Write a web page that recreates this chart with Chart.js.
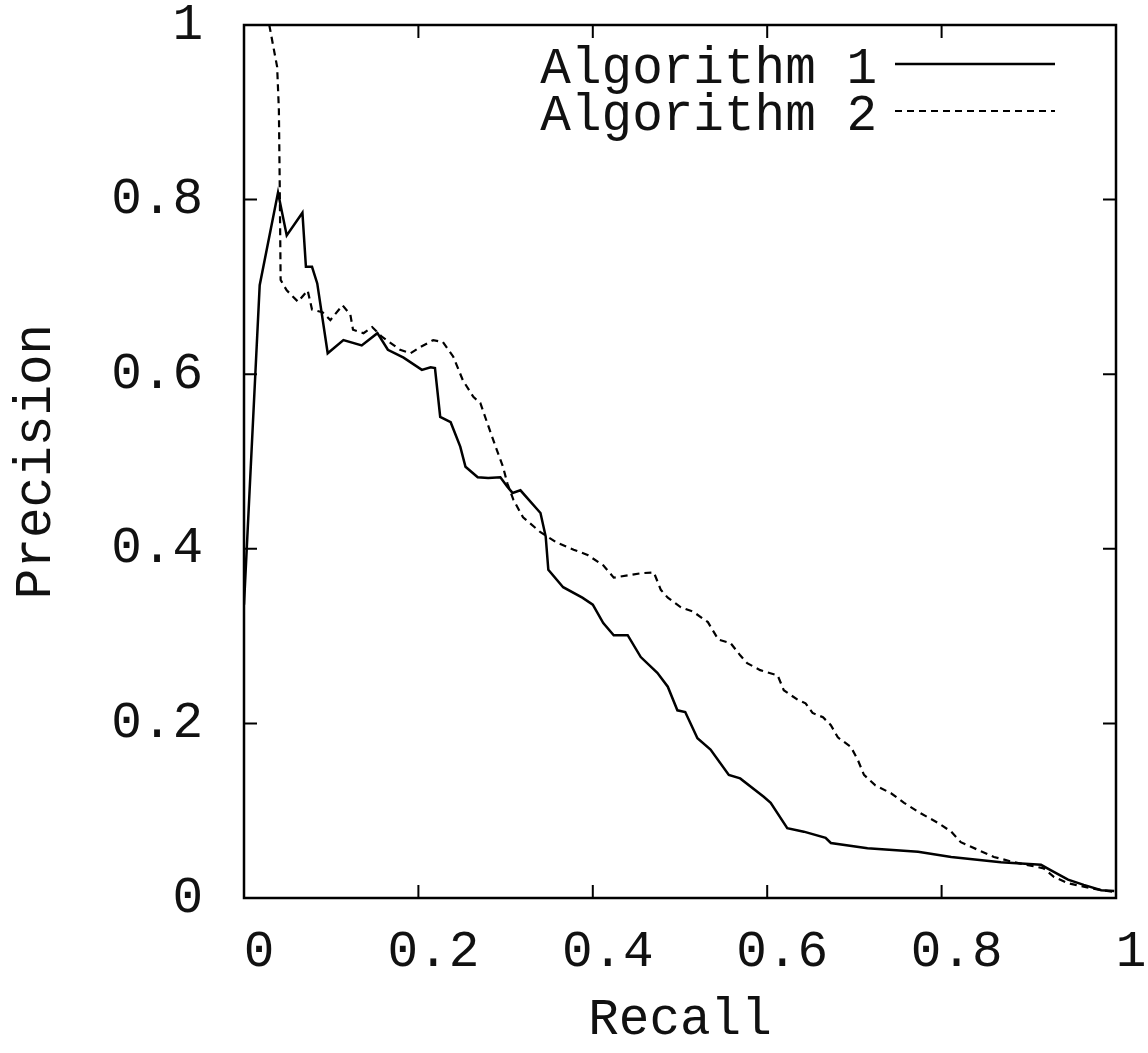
<!DOCTYPE html>
<html>
<head>
<meta charset="utf-8">
<title>Precision / Recall</title>
<script src="https://cdn.jsdelivr.net/npm/chart.js@4.4.1/dist/chart.umd.min.js"></script>
<style>
  html, body { margin: 0; padding: 0; background: #fff; }
  #prChart { display: block; }
</style>
</head>
<body>
<canvas id="prChart" width="1148" height="1053"></canvas>
<script>
// series (recall on x, precision on y)
const algo1Recall = [0, 0.018, 0.039, 0.049, 0.067, 0.071, 0.078, 0.084, 0.096, 0.114, 0.135, 0.153, 0.165, 0.183,
  0.204, 0.214, 0.219, 0.225, 0.237, 0.248, 0.254, 0.268, 0.280, 0.294, 0.302, 0.308, 0.317, 0.340, 0.346, 0.349,
  0.366, 0.388, 0.400, 0.412, 0.424, 0.440, 0.455, 0.474, 0.486, 0.497, 0.506, 0.520, 0.535, 0.556, 0.569, 0.596,
  0.604, 0.623, 0.642, 0.667, 0.673, 0.715, 0.773, 0.811, 0.868, 0.914, 0.925, 0.945, 0.963, 0.983, 0.998];
const algo1Precision = [0.336, 0.702, 0.808, 0.759, 0.785, 0.723, 0.723, 0.704, 0.624, 0.639, 0.633, 0.647, 0.628, 0.619,
  0.605, 0.608, 0.607, 0.551, 0.545, 0.517, 0.494, 0.482, 0.481, 0.482, 0.471, 0.464, 0.467, 0.441, 0.414, 0.376,
  0.356, 0.344, 0.336, 0.315, 0.301, 0.301, 0.276, 0.258, 0.242, 0.215, 0.213, 0.183, 0.170, 0.141, 0.137, 0.116,
  0.109, 0.080, 0.076, 0.069, 0.063, 0.057, 0.053, 0.047, 0.041, 0.038, 0.032, 0.021, 0.015, 0.009, 0.008];

const algo2Recall = [0.029, 0.038, 0.040, 0.041, 0.042, 0.049, 0.062, 0.073, 0.078, 0.090, 0.099, 0.113, 0.122, 0.125,
  0.137, 0.147, 0.158, 0.179, 0.191, 0.202, 0.217, 0.228, 0.240, 0.251, 0.263, 0.271, 0.279, 0.290, 0.297, 0.302,
  0.309, 0.320, 0.340, 0.359, 0.378, 0.394, 0.412, 0.424, 0.443, 0.455, 0.470, 0.478, 0.486, 0.501, 0.515, 0.532,
  0.544, 0.558, 0.569, 0.577, 0.592, 0.612, 0.619, 0.635, 0.644, 0.652, 0.664, 0.673, 0.681, 0.696, 0.704, 0.711,
  0.724, 0.742, 0.757, 0.776, 0.796, 0.811, 0.822, 0.842, 0.860, 0.883, 0.917, 0.929, 0.945, 0.963, 0.983, 0.998];
const algo2Precision = [1.0, 0.952, 0.903, 0.815, 0.708, 0.696, 0.683, 0.696, 0.674, 0.671, 0.662, 0.679, 0.668, 0.651,
  0.647, 0.654, 0.643, 0.628, 0.624, 0.631, 0.639, 0.637, 0.620, 0.593, 0.574, 0.567, 0.544, 0.513, 0.494, 0.475,
  0.456, 0.436, 0.419, 0.407, 0.399, 0.393, 0.381, 0.367, 0.370, 0.372, 0.373, 0.353, 0.344, 0.333, 0.328, 0.316,
  0.296, 0.292, 0.278, 0.269, 0.261, 0.255, 0.238, 0.227, 0.223, 0.212, 0.207, 0.198, 0.184, 0.173, 0.158, 0.141,
  0.129, 0.120, 0.109, 0.097, 0.086, 0.076, 0.064, 0.055, 0.047, 0.041, 0.034, 0.024, 0.017, 0.013, 0.009, 0.007];

const seriesNames = ['Algorithm 1', 'Algorithm 2'];
const xTickValues = [0, 0.2, 0.4, 0.6, 0.8, 1];
const yTickValues = [0, 0.2, 0.4, 0.6, 0.8, 1];
const tickLabels = ['0', '0.2', '0.4', '0.6', '0.8', '1'];

const FONT = "'Liberation Mono', 'Courier New', monospace";

function toPoints(xs, ys) {
  return xs.map((v, i) => ({ x: v, y: ys[i] }));
}

// gnuplot style frame: box with inward ticks on all four sides, plus key in the top right
const gnuplotFrame = {
  id: 'gnuplotFrame',
  afterDraw(chart) {
    const { ctx, chartArea: a, scales } = chart;
    const tick = 13;
    ctx.save();
    ctx.strokeStyle = '#000';
    ctx.lineWidth = 2.5;
    ctx.strokeRect(a.left, a.top, a.right - a.left, a.bottom - a.top);
    ctx.lineWidth = 2;
    ctx.beginPath();
    xTickValues.forEach(v => {
      const px = scales.x.getPixelForValue(v);
      ctx.moveTo(px, a.bottom); ctx.lineTo(px, a.bottom - tick);
      ctx.moveTo(px, a.top); ctx.lineTo(px, a.top + tick);
    });
    yTickValues.forEach(v => {
      const py = scales.y.getPixelForValue(v);
      ctx.moveTo(a.left, py); ctx.lineTo(a.left + tick, py);
      ctx.moveTo(a.right, py); ctx.lineTo(a.right - tick, py);
    });
    ctx.stroke();

    // key
    ctx.font = '51px ' + FONT;
    ctx.fillStyle = '#111';
    ctx.textAlign = 'right';
    ctx.textBaseline = 'middle';
    chart.data.datasets.forEach((ds, i) => {
      const ly = a.top + 39 + i * 47;
      ctx.fillText(ds.label, 877, ly + 5);
      ctx.beginPath();
      ctx.lineWidth = ds.borderWidth;
      ctx.setLineDash(ds.borderDash || []);
      ctx.moveTo(895, ly);
      ctx.lineTo(1055, ly);
      ctx.stroke();
    });
    ctx.restore();
  }
};

const prChart = new Chart(document.getElementById('prChart'), {
  type: 'line',
  data: {
    datasets: [{
      label: seriesNames[0],
      data: toPoints(algo1Recall, algo1Precision),
      borderColor: '#000',
      borderWidth: 2.5,
      pointRadius: 0,
      tension: 0,
      fill: false
    }, {
      label: seriesNames[1],
      data: toPoints(algo2Recall, algo2Precision),
      borderColor: '#000',
      borderWidth: 2.2,
      borderDash: [7, 5],
      pointRadius: 0,
      tension: 0,
      fill: false
    }]
  },
  options: {
    responsive: false,
    animation: false,
    layout: { padding: { left: 0, right: 32, top: 25, bottom: 0 } },
    plugins: {
      legend: { display: false },
      tooltip: { enabled: false }
    },
    scales: {
      x: {
        type: 'linear',
        min: 0,
        max: 1,
        grid: { display: false },
        border: { display: false },
        afterBuildTicks: (scale) => { scale.ticks = xTickValues.map(v => ({ value: v })); },
        afterFit: (scale) => { scale.height = 155; scale.paddingLeft = 0; scale.paddingRight = 0; },
        ticks: {
          font: { family: FONT, size: 51 },
          color: '#111',
          padding: 16,
          labelOffset: 15,
          maxRotation: 0,
          callback: (v, i) => tickLabels[i]
        },
        title: {
          display: true,
          text: 'Recall',
          font: { family: FONT, size: 51 },
          color: '#111',
          padding: { top: 0, bottom: 2 }
        }
      },
      y: {
        type: 'linear',
        min: 0,
        max: 1,
        grid: { display: false },
        border: { display: false },
        afterBuildTicks: (scale) => { scale.ticks = yTickValues.map(v => ({ value: v })); },
        afterFit: (scale) => { scale.width = 244; scale.paddingTop = 0; scale.paddingBottom = 0; },
        ticks: {
          font: { family: FONT, size: 51 },
          color: '#111',
          padding: 33,
          callback: (v, i) => tickLabels[i]
        },
        title: {
          display: true,
          text: 'Precision',
          font: { family: FONT, size: 51 },
          color: '#111',
          padding: { top: 6, bottom: 0 }
        }
      }
    }
  },
  plugins: [gnuplotFrame]
});
</script>
</body>
</html>
